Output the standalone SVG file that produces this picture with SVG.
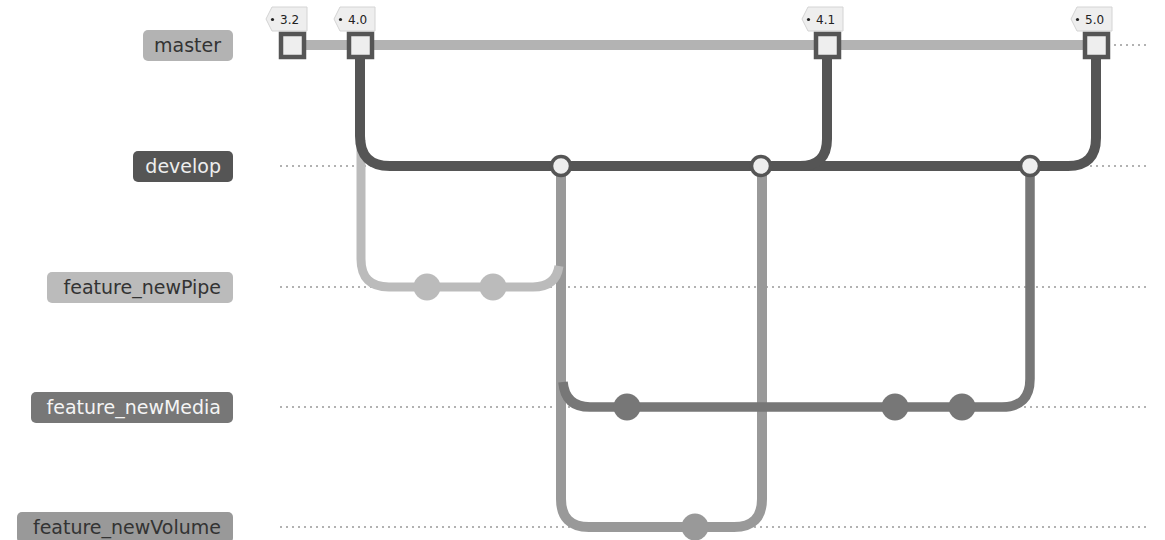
<svg xmlns="http://www.w3.org/2000/svg" width="1165" height="540" viewBox="0 0 1165 540">
<style>
.dot{stroke:#999;stroke-width:1.3;stroke-dasharray:2,4;fill:none}
.br{fill:none;stroke-linecap:butt;stroke-linejoin:round}
.lbl{font-family:"DejaVu Sans",sans-serif;font-size:19px;text-anchor:end}
.tag{fill:#eee;stroke:#d4d4d4;stroke-width:1}
.tagt{font-family:"DejaVu Sans",sans-serif;font-size:12px;fill:#222}
.mc{fill:#eee;stroke:#555;stroke-width:4.5}
.dc{fill:#eee;stroke:#555;stroke-width:3.5}
</style>
<rect width="1165" height="540" fill="#fff"/>
<g id="guides">
<line class="dot" x1="280" y1="45" x2="1150" y2="45"/>
<line class="dot" x1="280" y1="166" x2="1150" y2="166"/>
<line class="dot" x1="280" y1="287" x2="1150" y2="287"/>
<line class="dot" x1="280" y1="407" x2="1150" y2="407"/>
<line class="dot" x1="280" y1="527" x2="1150" y2="527"/>
</g>
<g id="connectors">
<path class="br" stroke="#999" stroke-width="10" d="M561,166 L561,499 Q561,527 589,527 L734,527 Q762,527 762,499 L762,166"/>
<path class="br" stroke="#bbb" stroke-width="9" d="M361,140 L361,259 Q361,287 389,287 L533,287 Q556,287 559,266"/>
<path class="br" stroke="#777" stroke-width="9.5" d="M563,382 Q565,407 590,407 L1002,407 Q1030,407 1030,379 L1030,166"/>
<path class="br" stroke="#555" stroke-width="10" d="M360,45 L360,136 Q360,166 390,166 L1068,166 Q1096,166 1096,138 L1096,45"/>
<path class="br" stroke="#555" stroke-width="10" d="M761,166 L800,166 Q827,166 827,139 L827,45"/>
<line stroke="#b3b3b3" stroke-width="10" x1="292" y1="45" x2="1096" y2="45"/>
</g>
<g id="label-master"><rect x="143" y="30" width="90" height="31" rx="5" fill="#b3b3b3"/><text class="lbl" x="221" y="52" fill="#333">master</text></g>
<g id="label-develop"><rect x="133" y="151" width="100" height="31" rx="5" fill="#555"/><text class="lbl" x="221" y="173" fill="#eee">develop</text></g>
<g id="label-feature_newPipe"><rect x="47" y="272" width="186" height="31" rx="5" fill="#bbb"/><text class="lbl" x="221" y="294" fill="#333">feature_newPipe</text></g>
<g id="label-feature_newMedia"><rect x="31" y="392" width="202" height="31" rx="5" fill="#777"/><text class="lbl" x="221" y="414" fill="#f4f4f4">feature_newMedia</text></g>
<g id="label-feature_newVolume"><rect x="17" y="512" width="216" height="31" rx="5" fill="#999"/><text class="lbl" x="221" y="534" fill="#333">feature_newVolume</text></g>
<g id="commits-pipe"><circle cx="427" cy="287" r="13.5" fill="#bbb"/><circle cx="493" cy="287" r="13.5" fill="#bbb"/></g>
<g id="commits-media"><circle cx="627" cy="407" r="13.5" fill="#777"/><circle cx="895" cy="407" r="13.5" fill="#777"/><circle cx="962" cy="407" r="13.5" fill="#777"/></g>
<g id="commits-volume"><circle cx="695" cy="527" r="13.5" fill="#999"/></g>
<g id="commits-develop"><circle class="dc" cx="561" cy="166" r="9.5"/><circle class="dc" cx="761" cy="166" r="9.5"/><circle class="dc" cx="1030" cy="166" r="9.5"/></g>
<g id="tag-3.2"><path class="tag" d="M266,19 L272,7 L307,7 L307,31 L272,31 Z"/><circle cx="272.5" cy="19.5" r="1.6" fill="#222"/><text class="tagt" x="280" y="24">3.2</text></g>
<g id="tag-4.0"><path class="tag" d="M334,19 L340,7 L375,7 L375,31 L340,31 Z"/><circle cx="340.5" cy="19.5" r="1.6" fill="#222"/><text class="tagt" x="348" y="24">4.0</text></g>
<g id="tag-4.1"><path class="tag" d="M802,19 L808,7 L843,7 L843,31 L808,31 Z"/><circle cx="808.5" cy="19.5" r="1.6" fill="#222"/><text class="tagt" x="816" y="24">4.1</text></g>
<g id="tag-5.0"><path class="tag" d="M1071,19 L1077,7 L1112,7 L1112,31 L1077,31 Z"/><circle cx="1077.5" cy="19.5" r="1.6" fill="#222"/><text class="tagt" x="1085" y="24">5.0</text></g>
<g id="commits-master"><rect class="mc" x="281" y="34" width="23" height="23"/><rect class="mc" x="349" y="34" width="23" height="23"/><rect class="mc" x="816" y="34" width="23" height="23"/><rect class="mc" x="1085" y="34" width="23" height="23"/></g>
</svg>
